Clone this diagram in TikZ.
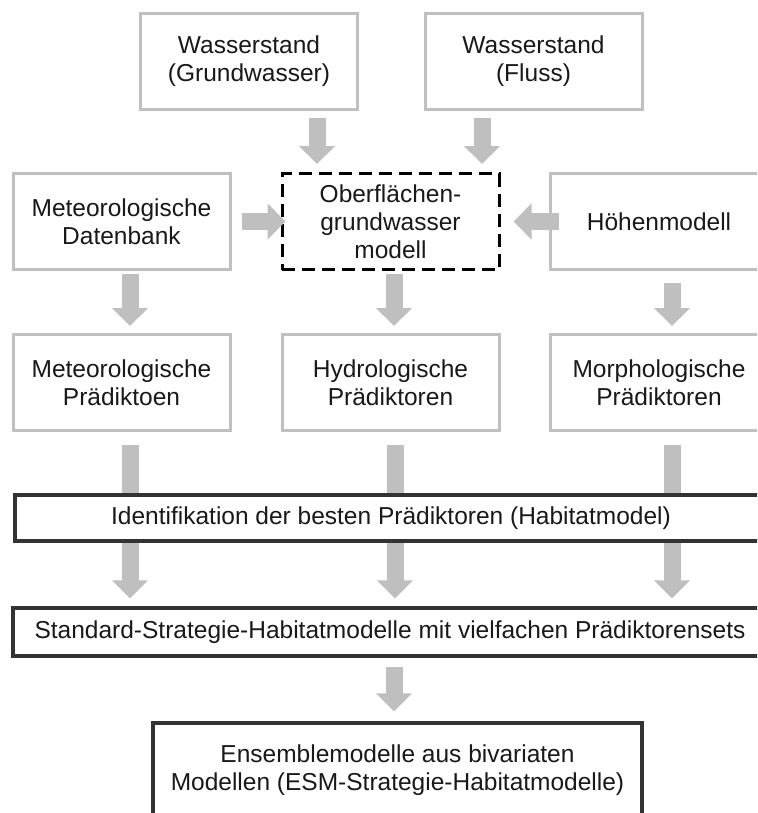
\documentclass[tikz,border=0pt]{standalone}
\usepackage{fontspec}
\setmainfont{Liberation Sans}
\usetikzlibrary{arrows.meta,positioning,calc}
\tikzset{
  >=Stealth,
  every node/.append style={font=\fontsize{12.25}{14}\selectfont},
}
\tikzset{
  box/.style={draw=boxgray, line width=1.5pt, fill=white, text=black!90, align=center, inner sep=2pt, minimum width=108.5pt, minimum height=48pt},
  modelbox/.style={box, draw=black, dash pattern=on 6.5pt off 3.5pt},
  bar/.style={draw=black!80, line width=1.6pt, fill=white, text=black!90, align=center, inner sep=2pt},
  arrow/.style={draw=arrowgray, line width=8.5pt, -{Triangle[width=17.5pt,length=9pt]}}
}

\begin{document}
\begin{tikzpicture}[x=0.5pt, y=-0.5pt]
% Color definitions
\definecolor{boxgray}{RGB}{192,192,192}
\definecolor{arrowgray}{RGB}{191,191,191}

\clip (0,0) rectangle (757,813);

% Input data
\node[box] (gw) at (249,61.5) {Wasserstand\\(Grundwasser)};
\node[box] (fluss) at (533.5,61.5) {Wasserstand\\(Fluss)};
\node[box] (meteo) at (121.5,221.5) {Meteorologische\\Datenbank};
\node[modelbox] (ober) at (390.5,221.5) {Oberflächen-\\grundwasser\\modell};
\node[box] (hoehen) at (659,221.5) {Höhenmodell};

% Predictors
\node[box] (pmeteo) at (121.5,382.5) {Meteorologische\\Prädiktoen};
\node[box] (phydro) at (390.5,382.5) {Hydrologische\\Prädiktoren};
\node[box] (pmorph) at (659,382.5) {Morphologische\\Prädiktoren};

% Habitat models
\node[bar, minimum width=377pt, minimum height=24pt] (strat) at (390,632) {Standard-Strategie-Habitatmodelle mit vielfachen Prädiktorensets};
\node[bar, minimum width=244.5pt, minimum height=47pt] (ens) at (397.5,770) {Ensemblemodelle aus bivariaten\\Modellen (ESM-Strategie-Habitatmodelle)};

% Arrows
\draw[arrow] ($(gw.south)+(68,7)$) -- ($(ober.north)+(-73.5,-8)$);
\draw[arrow] ($(fluss.south)+(-51.5,7)$) -- ($(ober.north)+(91.5,-8)$);
\draw[arrow] ($(meteo.east)+(10,0)$) -- ($(ober.west)+(5,0)$);
\draw[arrow] ($(hoehen.west)+(10,0)$) -- ($(ober.east)+(13,0)$);
\draw[arrow] ($(meteo.south)+(8.5,3)$) -- ($(pmeteo.north)+(8.5,-7)$);
\draw[arrow] ($(ober.south)+(3.5,3)$) -- ($(phydro.north)+(3.5,-7)$);
\draw[arrow] ($(hoehen.south)+(13,12)$) -- ($(pmorph.north)+(13,-7)$);
\draw[arrow] ($(pmeteo.south)+(8.5,13)$) -- ($(strat.north)+(-260,-8)$);
\draw[arrow] ($(phydro.south)+(4.5,13)$) -- ($(strat.north)+(5,-8)$);
\draw[arrow] ($(pmorph.south)+(13,13)$) -- ($(strat.north)+(282,-8)$);
\draw[arrow] ($(strat.south)+(4,9)$) -- ($(ens.north)+(-3.5,-10)$);

% Bar on top of the long arrows
\node[bar, minimum width=376pt, minimum height=23pt] (ident) at (391,518) {Identifikation der besten Prädiktoren (Habitatmodel)};
\end{tikzpicture}
\end{document}
